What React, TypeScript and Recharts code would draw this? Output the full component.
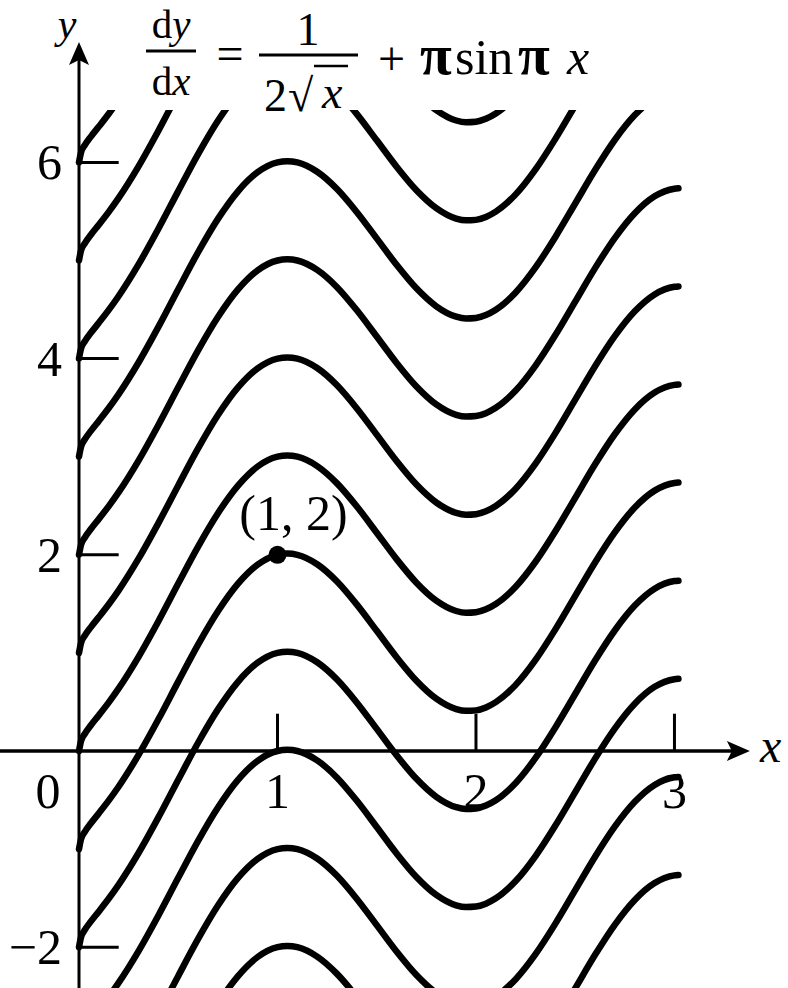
import { LineChart, Line, XAxis, YAxis, ReferenceLine, ReferenceDot } from 'recharts'

// sample x positions along each solution curve
const xs = [0, 0.01, 0.03, 0.06, 0.1, 0.15, 0.2, 0.3, 0.4, 0.5, 0.6, 0.7, 0.8, 0.9, 1.0, 1.05, 1.1, 1.2, 1.3, 1.4, 1.5, 1.6, 1.7, 1.8, 1.9, 1.95, 2.0, 2.05, 2.1, 2.2, 2.3, 2.4, 2.5, 2.6, 2.7, 2.8, 2.9, 3.0, 3.02]
// the curve through (1, 2)
const baseCurve = [-1, -0.9, -0.822, -0.737, -0.635, -0.504, -0.362, -0.04, 0.323, 0.707, 1.084, 1.424, 1.703, 1.9, 2.0, 2.012, 2.0, 1.904, 1.728, 1.492, 1.225, 0.956, 0.716, 0.533, 0.427, 0.409, 0.414, 0.444, 0.498, 0.674, 0.929, 1.24, 1.581, 1.922, 2.231, 2.482, 2.654, 2.732, 2.736]
// every other curve is the same one moved up or down
const curveShifts = [7, 6, 5, 4, 3, 2, 1, 0, -1, -2, -3, -4]

const yTicks = [6, 4, 2, -2]
const xTicks = [1, 2, 3]
const marked = { x: 1, y: 2, label: '(1, 2)' }

const X_DOMAIN = [-0.398, 3.572]
const Y_DOMAIN = [-2.416, 6.534]
const X_TIP = 3.38
const Y_TIP = 7.227

const FONT = '"Liberation Serif", "Times New Roman", serif'
const INK = '#000'

const curves = curveShifts.map((c) => xs.map((x, i) => ({ x, y: baseCurve[i] + c })))

function textShape(text: string, dx: number, dy: number, anchor = 'middle', italic = false, size = 50) {
  return (p: any) => (
    <text
      x={p.cx + dx}
      y={p.cy + dy}
      textAnchor={anchor}
      fontFamily={FONT}
      fontSize={size}
      fontStyle={italic ? 'italic' : 'normal'}
      fill={INK}
    >
      {text}
    </text>
  )
}

const upArrow = (p: any) => (
  <polygon
    points={`${p.cx},${p.cy} ${p.cx + 10},${p.cy + 23} ${p.cx},${p.cy + 18} ${p.cx - 10},${p.cy + 23}`}
    fill={INK}
  />
)

const rightArrow = (p: any) => (
  <polygon
    points={`${p.cx},${p.cy} ${p.cx - 23},${p.cy - 10} ${p.cx - 18},${p.cy} ${p.cx - 23},${p.cy + 10}`}
    fill={INK}
  />
)

function Formula() {
  return (
    <svg width={788} height={130} style={{ position: 'absolute', left: 0, top: 0 }}>
      <g fontFamily={FONT} fill={INK}>
        <text x={171} y={38} fontSize={41} textAnchor="middle">
          d<tspan fontStyle="italic">y</tspan>
        </text>
        <line x1={146} x2={196} y1={51} y2={51} stroke={INK} strokeWidth={3} />
        <text x={171} y={95} fontSize={41} textAnchor="middle">
          d<tspan fontStyle="italic">x</tspan>
        </text>
        <text x={230} y={70} fontSize={48} textAnchor="middle">=</text>
        <text x={308} y={45} fontSize={46} textAnchor="middle">1</text>
        <line x1={259} x2={358} y1={55} y2={55} stroke={INK} strokeWidth={3} />
        <text x={264} y={111} fontSize={46}>2</text>
        <text x={288} y={111} fontSize={46}>√</text>
        <line x1={314} x2={348} y1={66} y2={66} stroke={INK} strokeWidth={2.5} />
        <text x={322} y={108} fontSize={46} fontStyle="italic">x</text>
        <text x={378} y={75} fontSize={48}>+</text>
        <text y={74} fontSize={50}>
          <tspan x={420} fontSize={58} fontWeight="bold">π</tspan>
          <tspan x={455}>sin</tspan>
          <tspan x={518} fontSize={58} fontWeight="bold">π</tspan>
          <tspan x={567} fontStyle="italic">x</tspan>
        </text>
      </g>
    </svg>
  )
}

export default function App() {
  return (
    <div style={{ position: 'absolute', left: 0, top: 0, width: 788, height: 988, background: '#fff', overflow: 'hidden' }}>
      <LineChart width={788} height={988} margin={{ top: 110, right: 0, bottom: 0, left: 0 }}>
        <XAxis type="number" dataKey="x" domain={X_DOMAIN} allowDataOverflow hide />
        <YAxis type="number" dataKey="y" domain={Y_DOMAIN} allowDataOverflow hide />

        {/* axes through the origin */}
        <ReferenceLine
          segment={[{ x: X_DOMAIN[0] - 0.1, y: 0 }, { x: X_TIP - 0.05, y: 0 }]}
          stroke={INK}
          strokeWidth={3.5}
          ifOverflow="visible"
        />
        <ReferenceLine
          segment={[{ x: 0, y: Y_DOMAIN[0] - 0.2 }, { x: 0, y: Y_TIP - 0.1 }]}
          stroke={INK}
          strokeWidth={3}
          ifOverflow="visible"
        />
        <ReferenceDot x={X_TIP} y={0} r={0} ifOverflow="visible" shape={rightArrow} />
        <ReferenceDot x={0} y={Y_TIP} r={0} ifOverflow="visible" shape={upArrow} />
        <ReferenceDot x={X_TIP} y={0} r={0} ifOverflow="visible" shape={textShape('x', 10, 11, 'start', true, 48)} />
        <ReferenceDot x={0} y={Y_TIP} r={0} ifOverflow="visible" shape={textShape('y', -12, -4, 'middle', true, 42)} />

        {/* tick marks */}
        {yTicks.map((t) => (
          <ReferenceLine
            key={`yt${t}`}
            segment={[{ x: 0, y: t }, { x: 0.2, y: t }]}
            stroke={INK}
            strokeWidth={3}
            ifOverflow="visible"
          />
        ))}
        {xTicks.map((t) => (
          <ReferenceLine
            key={`xt${t}`}
            segment={[{ x: t, y: 0 }, { x: t, y: 0.38 }]}
            stroke={INK}
            strokeWidth={3}
            ifOverflow="visible"
          />
        ))}

        {curves.map((data, i) => (
          <Line
            key={curveShifts[i]}
            data={data}
            dataKey="y"
            type="monotone"
            stroke={INK}
            strokeWidth={6.5}
            strokeLinecap="round"
            dot={false}
            activeDot={false}
            isAnimationActive={false}
          />
        ))}

        {/* tick labels */}
        {yTicks.map((t) => (
          <ReferenceDot
            key={`yl${t}`}
            x={0}
            y={t}
            r={0}
            ifOverflow="visible"
            shape={textShape(t < 0 ? `\u2212${-t}` : String(t), -17, 17, 'end')}
          />
        ))}
        {xTicks.map((t) => (
          <ReferenceDot key={`xl${t}`} x={t} y={0} r={0} ifOverflow="visible" shape={textShape(String(t), 0, 57)} />
        ))}
        <ReferenceDot x={0} y={0} r={0} ifOverflow="visible" shape={textShape('0', -31, 57)} />

        <ReferenceDot x={marked.x} y={marked.y} r={9} fill={INK} stroke="none" ifOverflow="visible" />
        <ReferenceDot
          x={marked.x}
          y={marked.y}
          r={0}
          ifOverflow="visible"
          shape={textShape(marked.label, 16, -25)}
        />
      </LineChart>
      <Formula />
    </div>
  )
}
